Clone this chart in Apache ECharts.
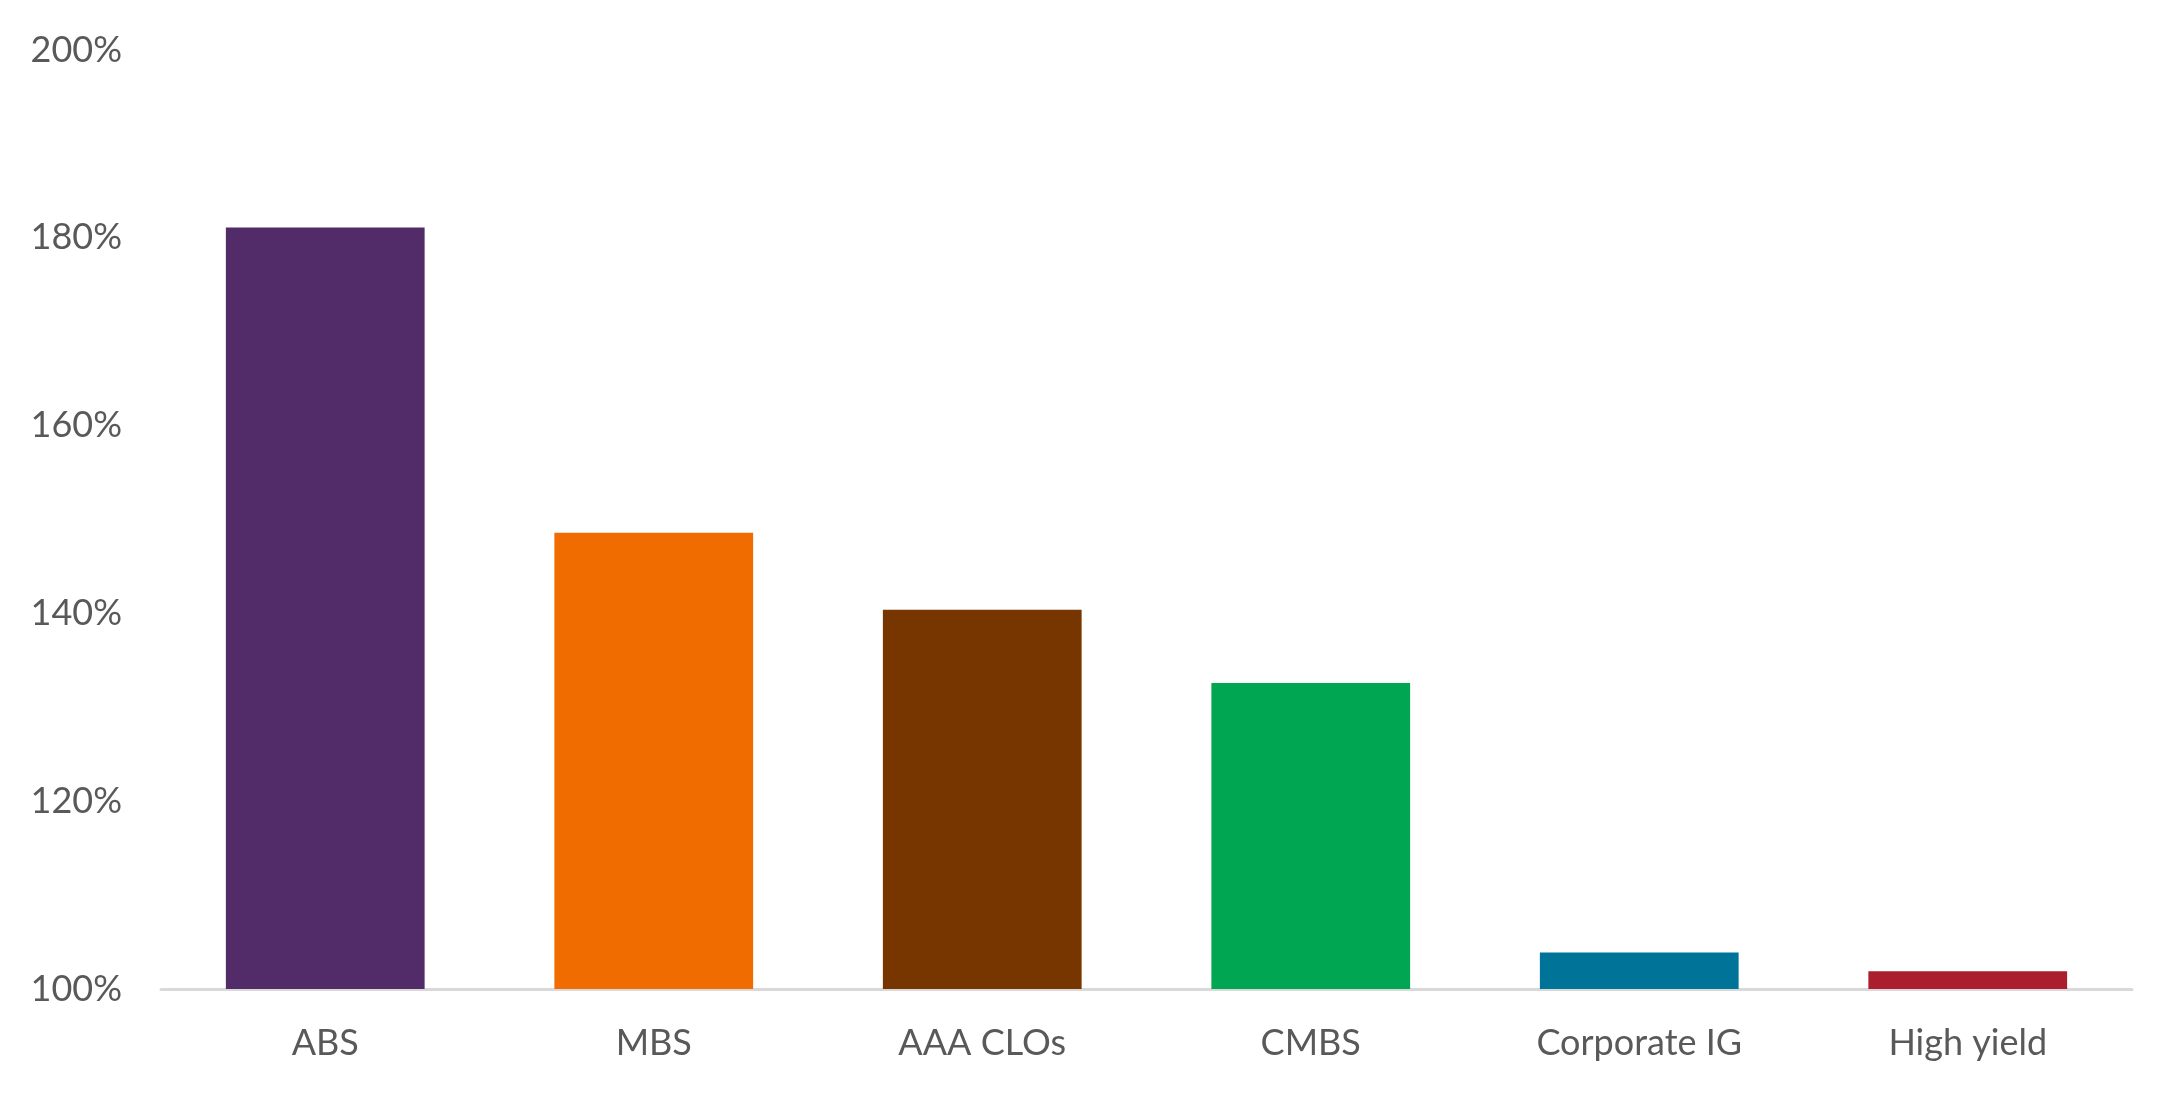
<!DOCTYPE html>
<html>
<head>
<meta charset="utf-8">
<style>
html,body{margin:0;padding:0;background:#fff;}
#chart{width:2182px;height:1096px;}
</style>
<script src="https://cdn.jsdelivr.net/npm/echarts@6/dist/echarts.min.js"></script>
</head>
<body>
<div id="chart"></div>
<script>
const categories = ['ABS', 'MBS', 'AAA CLOs', 'CMBS', 'Corporate IG', 'High yield'];
const values = [181.1, 148.6, 140.4, 132.6, 103.9, 101.9];
const barColors = ['#512C69', '#F06C00', '#773600', '#00A651', '#007398', '#AA1E2E'];
const yTicks = [100, 120, 140, 160, 180, 200];

const chart = echarts.init(document.getElementById('chart'));
chart.setOption({
  animation: false,
  backgroundColor: '#ffffff',
  grid: { left: 161, right: 50, top: 50, bottom: 107, containLabel: false },
  xAxis: {
    type: 'category',
    data: categories,
    axisLine: { show: true, lineStyle: { color: '#D9D9D9', width: 3 } },
    axisTick: { show: false },
    axisLabel: { color: '#595959', fontFamily: 'Lato', fontSize: 36, margin: 36 }
  },
  yAxis: {
    type: 'value',
    min: yTicks[0],
    max: yTicks[yTicks.length - 1],
    interval: 20,
    axisLine: { show: false },
    axisTick: { show: false },
    splitLine: { show: false },
    axisLabel: { color: '#595959', fontFamily: 'Lato', fontSize: 36, margin: 39, formatter: '{value}%' }
  },
  series: [{
    type: 'bar',
    barCategoryGap: '39.5%',
    data: values.map((v, i) => ({ value: v, itemStyle: { color: barColors[i] } }))
  }]
});
</script>
</body>
</html>
